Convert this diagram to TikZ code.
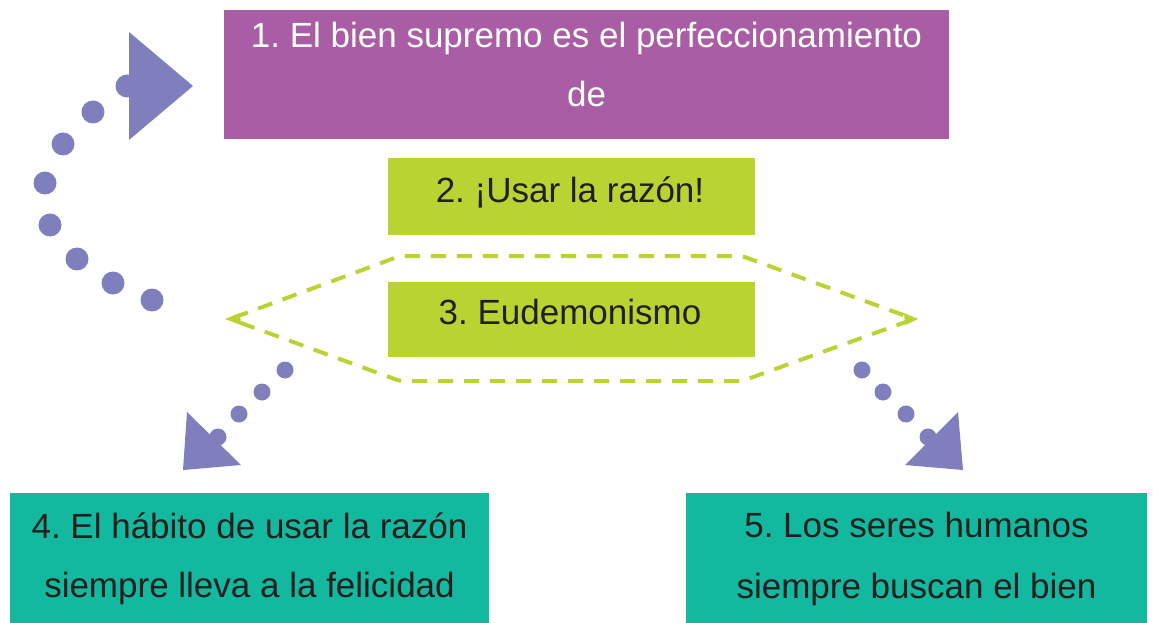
\documentclass[tikz,border=0pt]{standalone}
\usepackage{fontspec}
\setmainfont{Liberation Sans}
\frenchspacing
\definecolor{boxpurple}{HTML}{A85DA4}
\definecolor{boxlime}{HTML}{B9D432}
\definecolor{boxteal}{HTML}{13B99E}
\definecolor{arrowpurple}{HTML}{7E7FBC}
\definecolor{textdark}{HTML}{231F20}
\tikzset{
  box/.style={rectangle, inner sep=0pt, outer sep=0pt, anchor=north west, draw=none},
  lbl/.style={anchor=base, inner sep=0pt, font=\fontsize{35}{42}\selectfont, text=textdark},
  lblw/.style={lbl, text=white},
  bigdot/.style={fill=arrowpurple, draw=none},
  tri/.style={fill=arrowpurple, draw=none},
  hexline/.style={draw=boxlime, line width=4pt, dash pattern=on 15pt off 11pt, rounded corners=4pt},
  hextip/.style={fill=boxlime, draw=none}
}
\begin{document}
\begin{tikzpicture}[x=1pt,y=-1pt]
\useasboundingbox (0,0) rectangle (1157,623);
% boxes
\node[box, fill=boxpurple, minimum width=725pt, minimum height=129pt] (b1) at (224,10) {};
\node[box, fill=boxlime, minimum width=367pt, minimum height=77pt] (b2) at (388,158) {};
\node[box, fill=boxlime, minimum width=367pt, minimum height=75pt] (b3) at (388,282) {};
\node[box, fill=boxteal, minimum width=479pt, minimum height=130pt] (b4) at (10,493) {};
\node[box, fill=boxteal, minimum width=461pt, minimum height=130pt] (b5) at (686,493) {};
% texts
\node[lblw] (t1a) at (586.5,48) {1. El bien supremo es el perfeccionamiento};
\node[lblw] (t1b) at (586.5,107) {de};
\node[lbl] (t2) at (570,202) {2. ¡Usar la razón!};
\node[lbl] (t3) at (570,324) {3. Eudemonismo};
\node[lbl] (t4a) at (249.5,538) {4. El hábito de usar la razón};
\node[lbl] (t4b) at (249.5,597) {siempre lleva a la felicidad};
\node[lbl] (t5a) at (916.5,537) {5. Los seres humanos};
\node[lbl] (t5b) at (916.5,598) {siempre buscan el bien};
% dashed hexagon
\coordinate (hl) at (230,319);
\coordinate (htl) at (400,256);
\coordinate (htr) at (742,256);
\coordinate (hr) at (914,319);
\coordinate (hbr) at (742,381);
\coordinate (hbl) at (400,381);
\draw[hexline] (hl) -- (htl) -- (htr) -- (hr) -- (hbr) -- (hbl) -- cycle;
\fill[hextip] (225,319) -- (240,313) -- (241,325) -- cycle;
\fill[hextip] (918,319) -- (904,313) -- (905,325) -- cycle;
% curved dotted arrow (left)
\foreach \p in {(152,300),(113,283),(77,259),(50,225),(45,183),(63,144),(93,112),(127,86)}
  \fill[bigdot] \p circle (11.5);
\fill[tri] (129,32) -- (193,86) -- (129,140) -- cycle;
% lower-left dotted arrow
\foreach \p in {(285,370),(262,392),(239,414),(218,437)}
  \fill[bigdot] \p circle (8.5);
\fill[tri] (187,412) -- (241,465) -- (183,470) -- cycle;
% lower-right dotted arrow
\foreach \p in {(862,370),(883,392),(906,414),(928,437)}
  \fill[bigdot] \p circle (8.5);
\fill[tri] (958,412) -- (963,470) -- (905,465) -- cycle;
\end{tikzpicture}
\end{document}
